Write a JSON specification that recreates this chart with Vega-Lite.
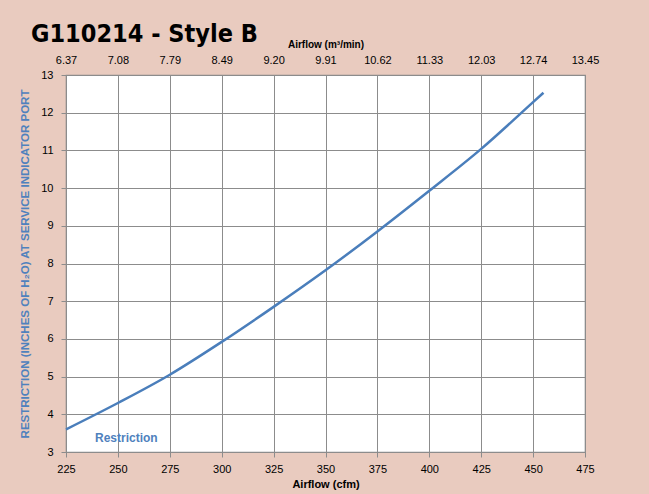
{
  "$schema": "https://vega.github.io/schema/vega-lite/v6.json",
  "width": 519,
  "height": 377,
  "autosize": "none",
  "padding": {"left": 66, "top": 75, "right": 64, "bottom": 42},
  "background": "#E9CBBF",
  "title": {
    "text": "G110214 - Style B",
    "anchor": "start",
    "frame": "group",
    "font": "DejaVu Sans Condensed",
    "fontSize": 25,
    "fontWeight": "bold",
    "color": "#000000",
    "dx": -35,
    "dy": 12,
    "offset": 4
  },
  "config": {
    "view": {"stroke": "#8C8C8C", "strokeWidth": 1.2, "fill": "#FFFFFF"},
    "axis": {
      "labelFont": "Liberation Sans",
      "titleFont": "Liberation Sans",
      "labelFontSize": 11,
      "labelColor": "#000000",
      "titleColor": "#000000",
      "domainColor": "#8C8C8C",
      "tickColor": "#8C8C8C",
      "gridColor": "#8C8C8C",
      "gridOpacity": 1,
      "gridWidth": 1,
      "tickSize": 5,
      "labelFlush": false
    }
  },
  "data": {
    "values": [
      {"cfm": 225, "restriction": 3.6, "series": "Restriction"},
      {"cfm": 250, "restriction": 4.3, "series": "Restriction"},
      {"cfm": 275, "restriction": 5.05, "series": "Restriction"},
      {"cfm": 300, "restriction": 5.92, "series": "Restriction"},
      {"cfm": 325, "restriction": 6.85, "series": "Restriction"},
      {"cfm": 350, "restriction": 7.82, "series": "Restriction"},
      {"cfm": 375, "restriction": 8.85, "series": "Restriction"},
      {"cfm": 400, "restriction": 9.93, "series": "Restriction"},
      {"cfm": 425, "restriction": 11.04, "series": "Restriction"},
      {"cfm": 450, "restriction": 12.28, "series": "Restriction"},
      {"cfm": 455, "restriction": 12.53, "series": "Restriction"}
    ]
  },
  "layer": [
    {
      "mark": {"type": "line", "strokeWidth": 2.5, "interpolate": "monotone"},
      "encoding": {
        "x": {
          "field": "cfm",
          "type": "quantitative",
          "scale": {"domain": [225, 475], "nice": false, "zero": false},
          "axis": {
            "values": [225, 250, 275, 300, 325, 350, 375, 400, 425, 450, 475],
            "title": "Airflow (cfm)",
            "titleFontSize": 11,
            "titleFontWeight": "bold",
            "titlePadding": 4,
            "labelPadding": 6,
            "labelFlush": false,
            "ticks": true,
            "grid": true
          }
        },
        "y": {
          "field": "restriction",
          "type": "quantitative",
          "scale": {"domain": [3, 13], "nice": false, "zero": false},
          "axis": {
            "values": [3, 4, 5, 6, 7, 8, 9, 10, 11, 12, 13],
            "title": "RESTRICTION (INCHES OF H₂O) AT SERVICE INDICATOR PORT",
            "titleColor": "#4F81BD",
            "titleFontSize": 11.5,
            "titleFontWeight": "bold",
            "titlePadding": 10,
            "labelPadding": 8,
            "ticks": true,
            "grid": true
          }
        },
        "color": {
          "field": "series",
          "type": "nominal",
          "scale": {"range": ["#4A7EBB"]},
          "legend": {
            "title": null,
            "orient": "none",
            "legendX": 15,
            "legendY": 355,
            "symbolSize": 0,
            "symbolStrokeWidth": 0,
            "labelOffset": 0,
            "labelColor": "#4F81BD",
            "labelFont": "Liberation Sans",
            "labelFontSize": 12,
            "labelFontWeight": "bold",
            "padding": 2
          }
        }
      }
    },
    {
      "mark": {"type": "point", "opacity": 0},
      "encoding": {
        "x": {
          "field": "cfm",
          "type": "quantitative",
          "scale": {"domain": [225, 475], "nice": false, "zero": false},
          "axis": {
            "orient": "top",
            "values": [225, 250, 275, 300, 325, 350, 375, 400, 425, 450, 475],
            "labelExpr": "['6.37','7.08','7.79','8.49','9.20','9.91','10.62','11.33','12.03','12.74','13.45'][round((datum.value-225)/25)]",
            "title": "Airflow (m³/min)",
            "titleFontSize": 10,
            "titleFontWeight": "bold",
            "titlePadding": 5,
            "labelPadding": 10,
            "labelFlush": false,
            "ticks": false,
            "domain": false,
            "grid": false
          }
        }
      }
    }
  ],
  "resolve": {"scale": {"x": "independent"}}
}
